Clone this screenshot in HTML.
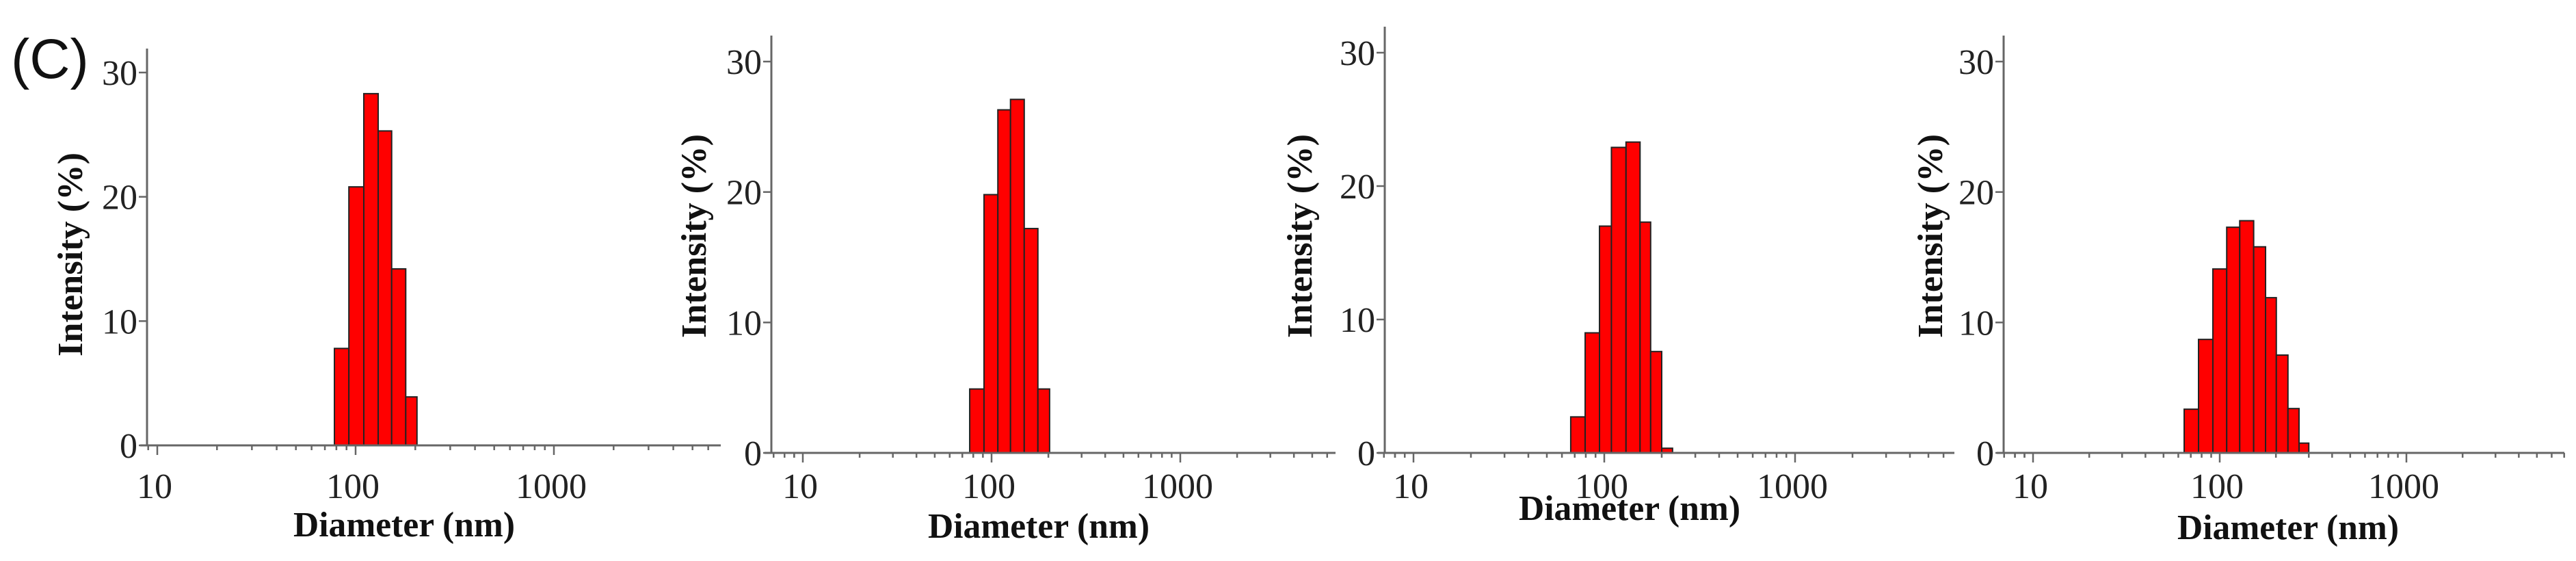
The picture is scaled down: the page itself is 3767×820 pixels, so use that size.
<!DOCTYPE html>
<html><head><meta charset="utf-8"><style>
html,body{margin:0;padding:0;background:#fff;}
svg{display:block;}
</style></head><body>
<svg id="chart" width="3767" height="820" viewBox="0 0 3767 820" xmlns="http://www.w3.org/2000/svg">
<rect width="3767" height="820" fill="#fff"/>
<text x="16" y="114" font-family="Liberation Sans, sans-serif" font-size="82" fill="#111">(C)</text>
</svg>
<script>
// Panel data: bin edges (nm) and intensities (%)
const edges1 = [78.2, 92.5, 110, 130, 152, 179, 204];
const values1 = [7.8, 20.8, 28.3, 25.3, 14.2, 3.9];
const edges2 = [76.6, 91.2, 108, 126, 149, 176, 203];
const values2 = [4.9, 19.8, 26.3, 27.1, 17.2, 4.9];
const edges3 = [66.7, 79.4, 94.4, 109, 130, 154, 175, 200, 228];
const values3 = [2.7, 9.0, 17.0, 22.9, 23.3, 17.3, 7.6, 0.35];
const edges4 = [64.5, 77, 91.9, 109, 128, 152, 176, 201, 232, 266, 300];
const values4 = [3.35, 8.7, 14.1, 17.3, 17.8, 15.8, 11.9, 7.5, 3.4, 0.75];
const yTicks = [0, 10, 20, 30];
const xTickLabels = ["10", "100", "1000"];

const NS = "http://www.w3.org/2000/svg";
const svg = document.getElementById("chart");
function mk(tag, attrs, parent) {
  const e = document.createElementNS(NS, tag);
  for (const k in attrs) e.setAttribute(k, attrs[k]);
  (parent || svg).appendChild(e);
  return e;
}
const layouts = [
  {ax:215, top:71, y0:651, y30:106, x10:230, dec:290, xend:1054, xlab:591, xlabY:784, ylabX:120, ylabY:372, tickY:728},
  {ax:1128, top:52, y0:662, y30:90, x10:1174, dec:276, xend:1953, xlab:1519, xlabY:786, ylabX:1032, ylabY:345, tickY:728},
  {ax:2025, top:39, y0:662, y30:77, x10:2067, dec:279, xend:2858, xlab:2383, xlabY:760, ylabX:1918, ylabY:345, tickY:728},
  {ax:2930, top:52, y0:662, y30:90, x10:2973, dec:273, xend:3750, xlab:3346, xlabY:788, ylabX:2840, ylabY:345, tickY:728}
];
const datasets = [[edges1, values1], [edges2, values2], [edges3, values3], [edges4, values4]];

layouts.forEach((L, p) => {
  const g = mk("g", {});
  
  
  const xs = d => L.x10 + (Math.log10(d) - 1) * L.dec;
  const ys = v => L.y0 - v * (L.y0 - L.y30) / 30;
  const [edges, vals] = datasets[p];
  vals.forEach((v, i) => {
    const x0 = xs(edges[i]), x1 = xs(edges[i + 1]);
    const r = mk("rect", {x: x0, y: ys(v), width: x1 - x0, height: ys(0) - ys(v), fill: "#ff0000", stroke: "#222", "stroke-width": 2}, g);
    
    
  });
  const ya = mk("line", {x1: L.ax, y1: L.top, x2: L.ax, y2: L.y0, stroke: "#666", "stroke-width": 3}, g);
  
  
  const xa = mk("line", {x1: L.ax - 10, y1: L.y0, x2: L.xend, y2: L.y0, stroke: "#666", "stroke-width": 3}, g);
  
  
  yTicks.forEach(t => {
    const y = ys(t);
    mk("line", {x1: L.ax - 12, y1: y, x2: L.ax, y2: y, stroke: "#666", "stroke-width": 2.5}, g);
    const tx = mk("text", {x: L.ax - 14, y: y + 18, "text-anchor": "end", "font-family": "Liberation Serif, serif", "font-size": 52, fill: "#222"}, g);
    tx.textContent = String(t);
    
    
  });
  for (let dec = 1; dec <= 1000; dec *= 10) {
    for (let m = 1; m <= 9; m++) {
      const x = xs(dec * m);
      if (x < L.ax - 5 || x > L.xend) continue;
      mk("line", {x1: x, y1: L.y0, x2: x, y2: L.y0 + (m === 1 ? 14 : 7), stroke: "#666", "stroke-width": 2.5}, g);
    }
  }
  [8, 9].forEach(d => {
    const x = xs(d);
    if (x > L.ax) mk("line", {x1: x, y1: L.y0, x2: x, y2: L.y0 + 7, stroke: "#666", "stroke-width": 2.5}, g);
  });
  xTickLabels.forEach(lbl => {
    const tx = mk("text", {x: xs(parseFloat(lbl)) - 4, y: L.tickY, "text-anchor": "middle", "font-family": "Liberation Serif, serif", "font-size": 52, fill: "#222"}, g);
    tx.textContent = lbl;
    
    
  });
  const xt = mk("text", {x: L.xlab, y: L.xlabY, "text-anchor": "middle", "font-family": "Liberation Serif, serif", "font-weight": "bold", "font-size": 52, fill: "#111", textLength: 324, lengthAdjust: "spacingAndGlyphs"}, g);
  xt.textContent = "Diameter (nm)";
  
  
  const yt = mk("text", {x: 0, y: 0, "text-anchor": "middle", "font-family": "Liberation Serif, serif", "font-weight": "bold", "font-size": 52, fill: "#111", textLength: 298, lengthAdjust: "spacingAndGlyphs", transform: `translate(${L.ylabX},${L.ylabY}) rotate(-90)`}, g);
  yt.textContent = "Intensity (%)";
  
  
});
</script>
</body></html>
